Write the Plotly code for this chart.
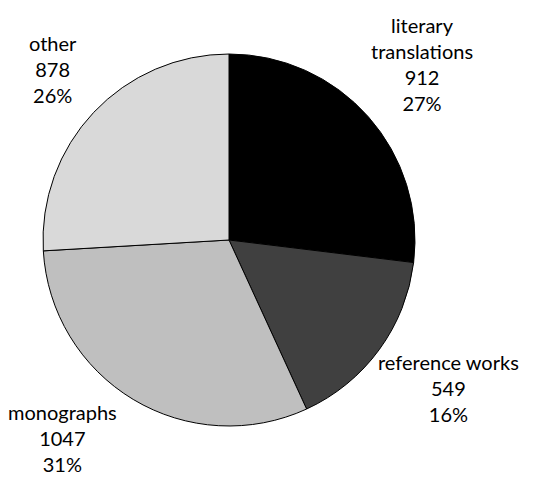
import plotly.graph_objects as go

# Publication types and counts
categories = ["literary translations", "reference works", "monographs", "other"]
counts = [912, 549, 1047, 878]
label_lines = ["literary<br>translations", "reference works", "monographs", "other"]
colors = ["#000000", "#404040", "#bfbfbf", "#d9d9d9"]

W, H = 538, 477
cx, cy, r = 229, 240, 186  # pie centre and radius in pixels

total = sum(counts)

fig = go.Figure(
    go.Pie(
        labels=categories,
        values=counts,
        sort=False,
        direction="clockwise",
        rotation=0,
        marker=dict(colors=colors, line=dict(color="#000000", width=1)),
        textinfo="none",
        hoverinfo="label+value+percent",
        showlegend=False,
        domain=dict(
            x=[(cx - r) / W, (cx + r) / W],
            y=[(H - cy - r) / H, (H - cy + r) / H],
        ),
    )
)

# Outside labels: name, count and share
label_pos = {
    "literary translations": (422, 64),
    "reference works": (448, 388),
    "monographs": (62, 438),
    "other": (53, 69),
}
for cat, line, v in zip(categories, label_lines, counts):
    px, py = label_pos[cat]
    pct = round(100 * v / total)
    fig.add_annotation(
        x=px / W,
        y=1 - py / H,
        xref="paper",
        yref="paper",
        xanchor="center",
        yanchor="middle",
        text=f"{line}<br>{v}<br>{pct}%",
        showarrow=False,
        align="center",
        font=dict(family="Lato", size=20, color="#000000"),
    )

fig.update_layout(
    width=W,
    height=H,
    margin=dict(l=0, r=0, t=0, b=0),
    paper_bgcolor="#ffffff",
    plot_bgcolor="#ffffff",
)

fig.write_html("out.html")
